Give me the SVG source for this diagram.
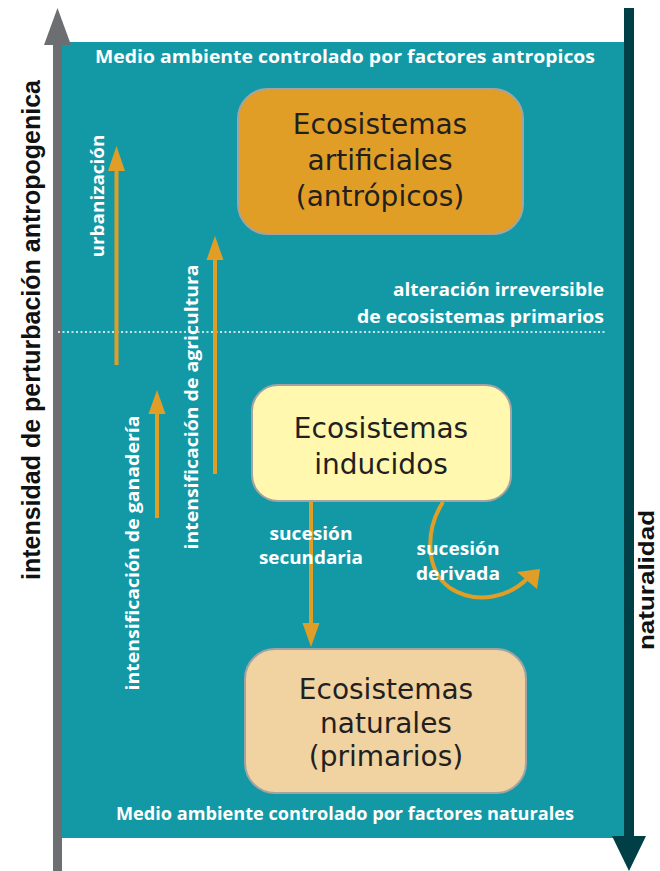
<svg xmlns="http://www.w3.org/2000/svg" width="660" height="871" viewBox="0 0 660 871">
<style>
.wl{font-family:"Open Sans","Liberation Sans",sans-serif;font-weight:700;fill:#ffffff;font-size:17.5px;text-anchor:middle}
.nt{font-family:"DejaVu Sans","Open Sans",sans-serif;font-weight:400;fill:#231f20;font-size:28px;text-anchor:middle}
.ax{font-family:"Liberation Sans","Open Sans",sans-serif;font-weight:700;fill:#111111;text-anchor:middle}
.box{stroke:#a3a3a3;stroke-width:2}
.oa{stroke:#e09e27;stroke-width:4;fill:none}
</style>
<rect width="660" height="871" fill="#ffffff"/>
<rect x="62" y="42" width="565" height="796" fill="#1399a6"/>
<g id="axis-left">
<rect x="53" y="40" width="9" height="831" fill="#6d6e71"/>
<polygon points="57.5,8 44,45 71,45" fill="#6d6e71"/>
<text class="ax" font-size="25" textLength="500" lengthAdjust="spacingAndGlyphs" transform="translate(40,330) rotate(-90)">intensidad de perturbación antropogenica</text>
</g>
<g id="axis-right">
<rect x="624" y="8" width="10" height="832" fill="#003f46"/>
<polygon points="629,871 612,836 646,836" fill="#003f46"/>
<text class="ax" font-size="22" textLength="140" lengthAdjust="spacingAndGlyphs" transform="translate(654,580) rotate(-90)">naturalidad</text>
</g>
<text class="wl" x="345" y="63" font-size="18.5" textLength="500" lengthAdjust="spacingAndGlyphs">Medio ambiente controlado por factores antropicos</text>
<text class="wl" x="345" y="820" font-size="18.5" textLength="458" lengthAdjust="spacingAndGlyphs">Medio ambiente controlado por factores naturales</text>
<g id="threshold">
<line x1="58" y1="332" x2="606" y2="332" stroke="#ffffff" stroke-width="1.5" stroke-dasharray="2 2.5"/>
<text class="wl" x="604" y="296" style="text-anchor:end" textLength="211" lengthAdjust="spacingAndGlyphs">alteración irreversible</text>
<text class="wl" x="604" y="323" style="text-anchor:end" textLength="247" lengthAdjust="spacingAndGlyphs">de ecosistemas primarios</text>
</g>
<g id="artificiales">
<rect class="box" x="238" y="89" width="285" height="145" rx="30" fill="#e09e27"/>
<text class="nt" x="380" y="134" font-size="29.5">Ecosistemas</text>
<text class="nt" x="380" y="170" font-size="29.5">artificiales</text>
<text class="nt" x="380" y="206" font-size="29.5">(antrópicos)</text>
</g>
<g id="inducidos">
<rect class="box" x="252" y="385" width="259" height="116" rx="26" fill="#fff8ae"/>
<text class="nt" x="381" y="438" font-size="27.5">Ecosistemas</text>
<text class="nt" x="381" y="474" font-size="27.5">inducidos</text>
</g>
<g id="naturales">
<rect class="box" x="245" y="649" width="281" height="144" rx="30" fill="#f0d3a0"/>
<text class="nt" x="386" y="699" font-size="27">Ecosistemas</text>
<text class="nt" x="386" y="733" font-size="27">naturales</text>
<text class="nt" x="386" y="766" font-size="27">(primarios)</text>
</g>
<g id="connectors">
<line class="oa" x1="116.5" y1="365" x2="116.5" y2="168"/>
<polygon points="116.5,146 108,171 125,171" fill="#e09e27"/>
<line class="oa" x1="157" y1="518" x2="157" y2="410"/>
<polygon points="157,390 148.5,414 165.5,414" fill="#e09e27"/>
<line class="oa" x1="215" y1="474" x2="215" y2="256"/>
<polygon points="215,236 206.5,260 223.5,260" fill="#e09e27"/>
<line class="oa" x1="311" y1="501" x2="311" y2="626"/>
<polygon points="311,647 302.5,623 319.5,623" fill="#e09e27"/>
<path class="oa" d="M443,502 C425,530 425,570 450,588 C478,606 510,596 528,578"/>
<polygon points="540,569 517,572 537,589" fill="#e09e27"/>
</g>
<g id="labels">
<text class="wl" transform="translate(104,196) rotate(-90)" textLength="123" lengthAdjust="spacingAndGlyphs">urbanización</text>
<text class="wl" transform="translate(139,553) rotate(-90)" textLength="275" lengthAdjust="spacingAndGlyphs">intensificación de ganadería</text>
<text class="wl" transform="translate(198,407) rotate(-90)" textLength="285" lengthAdjust="spacingAndGlyphs">intensificación de agricultura</text>
<text class="wl" x="311" y="540" textLength="83" lengthAdjust="spacingAndGlyphs">sucesión</text>
<text class="wl" x="311" y="564" textLength="104" lengthAdjust="spacingAndGlyphs">secundaria</text>
<text class="wl" x="458" y="555" textLength="83" lengthAdjust="spacingAndGlyphs">sucesión</text>
<text class="wl" x="458" y="580" textLength="84" lengthAdjust="spacingAndGlyphs">derivada</text>
</g>
</svg>
